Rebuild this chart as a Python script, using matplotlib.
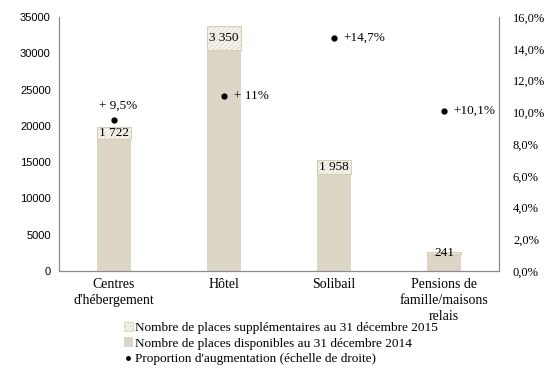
import matplotlib
matplotlib.use("Agg")
import matplotlib.pyplot as plt
from matplotlib.patches import Patch
from matplotlib.lines import Line2D

categories = ["Centres\nd'hébergement", "Hôtel", "Solibail", "Pensions de\nfamille/maisons\nrelais"]
places_2014 = [18130, 30450, 13320, 2390]
places_supp_2015 = [1722, 3350, 1958, 241]
supp_labels = ["1 722", "3 350", "1 958", "241"]
proportion = [9.5, 11.0, 14.7, 10.1]
prop_labels = ["+ 9,5%", "+ 11%", "+14,7%", "+10,1%"]
left_ticks = [0, 5000, 10000, 15000, 20000, 25000, 30000, 35000]
right_ticks = [0, 2, 4, 6, 8, 10, 12, 14, 16]

serif = "Liberation Serif"
plt.rcParams["hatch.linewidth"] = 0.4
plt.rcParams["hatch.color"] = "#c9c0ad"

fig = plt.figure(figsize=(5.57, 3.71), dpi=100)
ax = fig.add_axes([0.106, 0.2695, 0.79, 0.6845])
x = list(range(len(categories)))
base_col = "#ddd6c6"
ax.bar(x, places_2014, width=0.31, color=base_col, edgecolor="none", zorder=2)
ax.bar(x, places_supp_2015, width=0.31, bottom=places_2014, color="#f5f3ec",
       edgecolor="#d6cdb9", linewidth=0.8, hatch="///////", zorder=2)
for xi, b, s, lab in zip(x, places_2014, places_supp_2015, supp_labels):
    ax.text(xi, b + s / 2, lab, ha="center", va="center", fontsize=9.5,
            family=serif, zorder=4)
ax.set_xlim(-0.5, 3.5)
ax.set_ylim(0, 35000)
ax.set_yticks(left_ticks)
ax.set_yticklabels([str(v) for v in left_ticks], family="Liberation Sans", fontsize=8)
ax.set_xticks(x)
ax.set_xticklabels(categories, family=serif, fontsize=10, linespacing=1.3)
ax.tick_params(length=0, pad=6)
ax.tick_params(axis="x", pad=5)
for sp in ["top", "right"]:
    ax.spines[sp].set_visible(False)
for sp in ["left", "bottom"]:
    ax.spines[sp].set_color("#8c8c8c")
    ax.spines[sp].set_linewidth(0.9)

ax2 = ax.twinx()
ax2.set_ylim(0, 16)
ax2.set_yticks(right_ticks)
ax2.set_yticklabels([f"{v:.1f}".replace(".", ",") + "%" for v in right_ticks],
                    family=serif, fontsize=9)
ax2.tick_params(length=0, pad=10)
for sp in ["top", "left", "bottom"]:
    ax2.spines[sp].set_visible(False)
ax2.spines["right"].set_color("#8c8c8c")
ax2.spines["right"].set_linewidth(0.9)
ax2.plot(x, proportion, "o", color="black", markersize=3.5, zorder=5)
for i, (xi, p, lab) in enumerate(zip(x, proportion, prop_labels)):
    if i == 0:
        ax2.annotate(lab, (xi, p), xytext=(3, 6), textcoords="offset points",
                     ha="center", va="bottom", fontsize=9.5, family=serif)
    else:
        ax2.annotate(lab, (xi, p), xytext=(7, 0), textcoords="offset points",
                     ha="left", va="center", fontsize=9.5, family=serif)

handles = [
    Patch(facecolor="#f5f3ec", edgecolor="#d6cdb9", hatch="///////", linewidth=0.5),
    Patch(facecolor=base_col, edgecolor="none"),
    Line2D([], [], marker="o", color="black", linestyle="none", markersize=2.5),
]
labels = ["Nombre de places supplémentaires au 31 décembre 2015",
          "Nombre de places disponibles au 31 décembre 2014",
          "Proportion d'augmentation (échelle de droite)"]
fig.legend(handles, labels, loc="upper left", bbox_to_anchor=(0.222, 0.133),
           frameon=False, prop={"family": serif, "size": 9.5},
           handlelength=0.7, handleheight=0.7, handletextpad=0.15,
           labelspacing=0.27, borderpad=0, borderaxespad=0)

fig.savefig("out.png", dpi=100)
